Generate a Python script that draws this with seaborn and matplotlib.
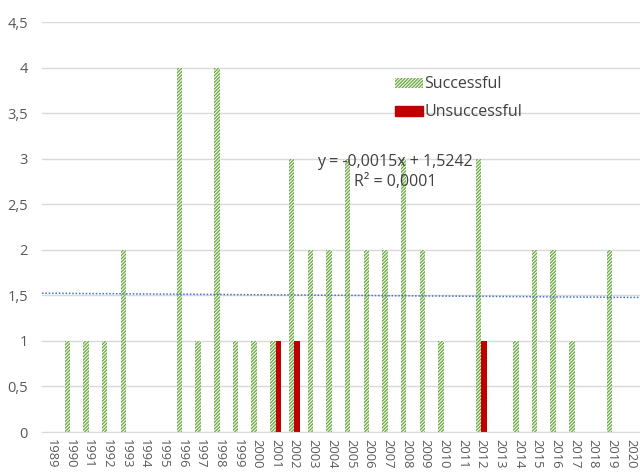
import numpy as np
import pandas as pd
import matplotlib
matplotlib.use("Agg")
import matplotlib.pyplot as plt
import seaborn as sns
from matplotlib.patches import Patch
from matplotlib.ticker import FuncFormatter, MultipleLocator

years = [str(y) for y in range(1989, 2021)]
successful = [0, 1, 1, 1, 2, 0, 0, 4, 1, 4, 1, 1, 1, 3, 2, 2,
              3, 2, 2, 3, 2, 1, 0, 3, 0, 1, 2, 2, 1, 0, 2, 0]
unsuccessful = [0, 0, 0, 0, 0, 0, 0, 0, 0, 0, 0, 0, 1, 1, 0, 0,
                0, 0, 0, 0, 0, 0, 0, 1, 0, 0, 0, 0, 0, 0, 0, 0]
series_names = ["Successful", "Unsuccessful"]
trend_label = "y = -0,0015x + 1,5242\nR² = 0,0001"

df = pd.DataFrame({
    "Year": years * 2,
    "Count": successful + unsuccessful,
    "Status": [series_names[0]] * len(years) + [series_names[1]] * len(years),
})

sns.set_style("white")
plt.rcParams["font.family"] = ["Open Sans", "DejaVu Sans"]
plt.rcParams["hatch.linewidth"] = 1.0

green = "#70AD47"
red = "#C00000"
gray_text = "#595959"

fig = plt.figure(figsize=(6.4, 4.73), dpi=100)
ax = fig.add_axes([42 / 640, 1 - 432 / 473, 598 / 640, (432 - 22) / 473])

sns.barplot(data=df, x="Year", y="Count", hue="Status", order=years,
            hue_order=series_names, palette=[green, red], width=0.58,
            legend=False, ax=ax, saturation=1, linewidth=0)

for bar in ax.containers[0]:
    bar.set_facecolor("white")
    bar.set_edgecolor(green)
    bar.set_hatch("//////////")
    bar.set_linewidth(0)

# linear trendline on successful series (Excel x = 1..n)
xs = np.arange(1, len(years) + 1)
slope, intercept = np.polyfit(xs, successful, 1)
xline = np.array([0.5, len(years) + 0.5])
ax.plot(xline - 1, slope * xline + intercept, linestyle=(0, (1, 1.2)),
        color="#4472C4", linewidth=1.1, zorder=3)

fig.text(395 / 640, 1 - 172 / 473, trend_label, ha="center", va="center",
         fontsize=11.5, color="#404040", linespacing=1.25)

ax.set_xlim(-0.5, len(years) - 0.5)
ax.set_ylim(0, 4.5)
ax.yaxis.set_major_locator(MultipleLocator(0.5))
ax.yaxis.set_major_formatter(FuncFormatter(
    lambda v, p: ("%g" % v).replace(".", ",")))
ax.grid(axis="y", color="#D9D9D9", linewidth=1)
ax.set_axisbelow(True)
for s in ["top", "right", "left"]:
    ax.spines[s].set_visible(False)
ax.spines["bottom"].set_color("#D9D9D9")
ax.set_xlabel("")
ax.set_ylabel("")
ax.tick_params(axis="x", rotation=-90, labelsize=9.3, colors=gray_text,
               length=0, pad=5)
ax.tick_params(axis="y", labelsize=10.5, colors=gray_text, length=0, pad=10)
for lbl in ax.get_xticklabels():
    lbl.set_va("top")
    lbl.set_ha("center")

handles = [Patch(facecolor="white", edgecolor=green, hatch="//////////",
                 linewidth=0, label=series_names[0]),
           Patch(facecolor=red, edgecolor=red, label=series_names[1])]
leg = fig.legend(handles=handles, loc="upper left",
                 bbox_to_anchor=(381 / 640, 1 - 62 / 473), frameon=False,
                 fontsize=11.5, handlelength=1.7, handleheight=0.55,
                 handletextpad=0.1, labelspacing=0.75)
for t in leg.get_texts():
    t.set_color("#404040")

fig.savefig("out.png", dpi=100)
